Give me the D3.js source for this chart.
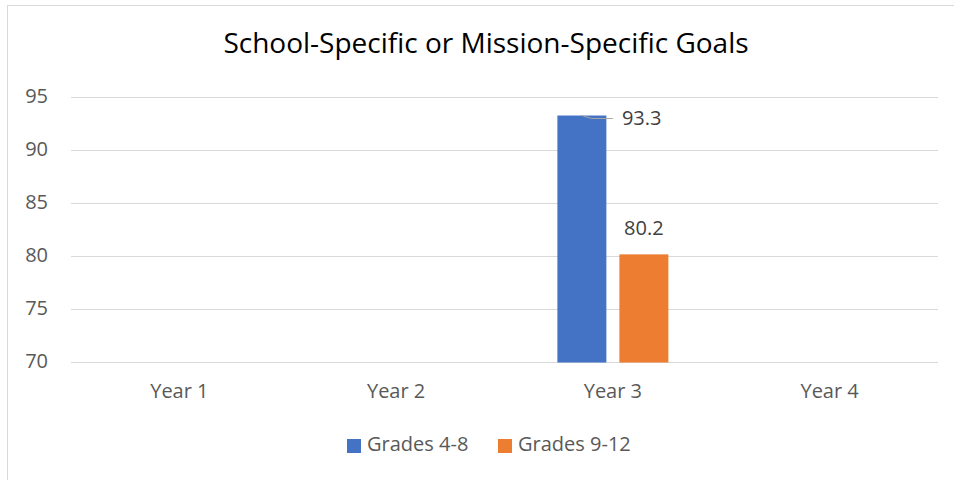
<!DOCTYPE html>
<html>
<head>
<meta charset="utf-8">
<script src="https://cdn.jsdelivr.net/npm/d3@7"></script>
<style>
  body { margin: 0; background: #fff; }
  .chart text { font-family: "Open Sans", sans-serif; }
</style>
</head>
<body>
<div class="chart"></div>
<script>
// data
const categories = ['Year 1', 'Year 2', 'Year 3', 'Year 4']
const seriesNames = ['Grades 4-8', 'Grades 9-12']
const grades48 = [null, null, 93.3, null]
const grades912 = [null, null, 80.2, null]
const yTicks = [70, 75, 80, 85, 90, 95]
const colors = ['#4472C4', '#ED7D31']

const W = 954, H = 480
const margin = {top: 97.5, right: 16, bottom: 117.5, left: 71}
const width = W - margin.left - margin.right
const height = H - margin.top - margin.bottom

const svg = d3.select('.chart')
  .append('svg')
    .attr('width', W)
    .attr('height', H)

// chart frame
svg.append('rect')
  .attr('x', 7.5).attr('y', 5.5)
  .attr('width', W + 20).attr('height', H + 20)
  .attr('fill', 'none')
  .attr('stroke', '#d9d9d9')

svg.append('text')
  .attr('x', 486).attr('y', 46)
  .attr('text-anchor', 'middle')
  .attr('dominant-baseline', 'middle')
  .style('font-size', '28px')
  .style('fill', '#000')
  .text('School-Specific or Mission-Specific Goals')

const g = svg.append('g')
  .attr('transform', `translate(${margin.left}, ${margin.top})`)

const x = d3.scaleBand().domain(categories).range([0, width])
const groupW = x.bandwidth() * 0.512
const x1 = d3.scaleBand().domain(seriesNames).range([0, groupW]).paddingInner(0.21)
const y = d3.scaleLinear().domain([70, 95]).range([height, 0])

// gridlines
g.selectAll('.grid')
  .data(yTicks)
  .enter()
  .append('line')
    .attr('x1', 0).attr('x2', width)
    .attr('y1', d => y(d)).attr('y2', d => y(d))
    .attr('stroke', '#d9d9d9')
    .attr('stroke-width', 1)

// y axis labels
g.selectAll('.ytick')
  .data(yTicks)
  .enter()
  .append('text')
    .attr('x', -23)
    .attr('y', d => y(d))
    .attr('text-anchor', 'end')
    .attr('dominant-baseline', 'middle')
    .style('font-size', '20px')
    .style('fill', '#595959')
    .text(d => d)

// x axis labels
g.selectAll('.xtick')
  .data(categories)
  .enter()
  .append('text')
    .attr('x', d => x(d) + x.bandwidth() / 2)
    .attr('y', height + 30)
    .attr('text-anchor', 'middle')
    .attr('dominant-baseline', 'middle')
    .style('font-size', '20px')
    .style('fill', '#595959')
    .text(d => d)

const series = [grades48, grades912]
const bars = []
categories.forEach((c, i) => {
  series.forEach((s, j) => {
    if (s[i] != null) bars.push({cat: c, name: seriesNames[j], value: s[i], color: colors[j], idx: j})
  })
})
const gx = d => x(d.cat) + (x.bandwidth() - groupW) / 2 + x1(d.name)

g.selectAll('.bar')
  .data(bars)
  .enter()
  .append('rect')
    .attr('x', gx)
    .attr('y', d => y(d.value))
    .attr('width', x1.bandwidth())
    .attr('height', d => height - y(d.value))
    .attr('fill', d => d.color)

// data labels
bars.forEach(d => {
  const cx = gx(d) + x1.bandwidth() / 2
  if (d.idx === 0) {
    // label pushed to the right with leader line
    g.append('path')
      .attr('d', `M${cx},${y(d.value)} L${cx + 10},${y(d.value) + 3} L${cx + 31},${y(d.value) + 3}`)
      .attr('fill', 'none')
      .attr('stroke', '#a6a6a6')
      .attr('stroke-width', 1)
    g.append('text')
      .attr('x', cx + 40)
      .attr('y', y(d.value) + 4)
      .attr('dominant-baseline', 'middle')
      .style('font-size', '20px')
      .style('fill', '#404040')
      .text(d.value.toFixed(1))
  } else {
    g.append('text')
      .attr('x', cx)
      .attr('y', y(d.value) - 25)
      .attr('text-anchor', 'middle')
      .attr('dominant-baseline', 'middle')
      .style('font-size', '20px')
      .style('fill', '#404040')
      .text(d.value.toFixed(1))
  }
})

// legend
const legend = svg.append('g')
const legendX = [347, 498]
seriesNames.forEach((n, i) => {
  legend.append('rect')
    .attr('x', legendX[i]).attr('y', 439)
    .attr('width', 14).attr('height', 14)
    .attr('fill', colors[i])
  legend.append('text')
    .attr('x', legendX[i] + 20).attr('y', 446)
    .attr('dominant-baseline', 'middle')
    .style('font-size', '20px')
    .style('fill', '#595959')
    .text(n)
})
</script>
</body>
</html>
